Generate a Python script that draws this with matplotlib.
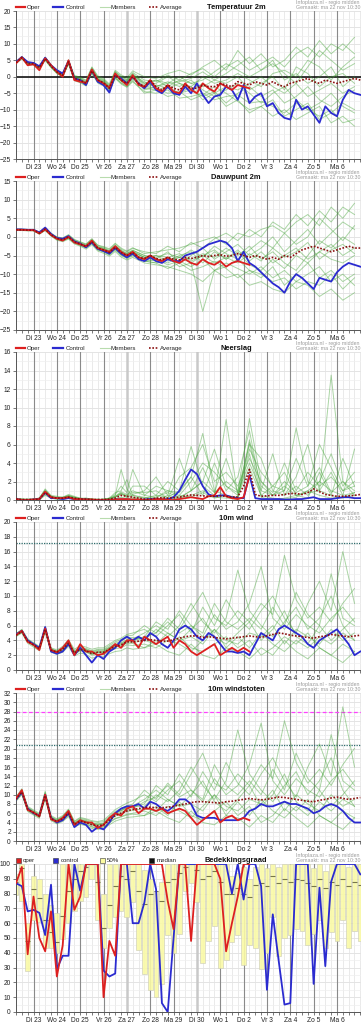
import numpy as np
import matplotlib
matplotlib.use("Agg")
import matplotlib.pyplot as plt
from matplotlib.lines import Line2D
from matplotlib.patches import Rectangle

plt.rcParams['font.family'] = ['Liberation Sans', 'DejaVu Sans']

# ---------------- time axes (hours since first forecast step) ----------------
T6 = list(range(0, 360, 6))                               # 60 six-hourly steps
T_OPER = list(range(0, 241, 6))                           # oper run to +240h
T_MEM = list(range(0, 121, 6)) + list(range(132, 349, 12))  # member samples
DAY_HOURS = [18 + 24 * k for k in range(14)]
DAY_LABELS = ["Di 23", "Wo 24", "Do 25", "Vr 26", "Za 27", "Zo 28", "Ma 29",
              "Di 30", "Wo 1", "Do 2", "Vr 3", "Za 4", "Zo 5", "Ma 6"]

# ---------------- Temperatuur 2m ----------------
temp_oper = [4.1, 5.9, 3.5, 3.8, 2.0, 5.6, 3.5, 1.5, 0.0, 5.0, -1.0, -1.5, -1.8, 2.2, -1.0, -2.0, -3.3,
             1.0, -1.0, -2.5, 0.5, -2.5, -3.0, -1.0, -3.5, -4.5, -2.5, -4.5, -5.0, -2.0, -4.0, -5.0,
             -2.0, -3.5, -4.5, -2.0, -3.0, -4.0, -2.5, -3.0, -3.5]
temp_control = [4.5, 6.0, 4.5, 4.2, 3.2, 5.8, 3.5, 2.0, 1.0, 4.8, -0.5, -1.0, -2.5, 2.0, -1.5, -2.5,
                -4.8, 0.5, -0.5, -2.0, 0.0, -2.0, -3.5, -1.5, -4.0, -5.0, -3.0, -5.0, -5.5, -3.0,
                -5.0, -2.0, -5.5, -8.0, -6.0, -5.5, -3.0, -4.0, -7.0, -2.5, -8.0, -6.0, -5.0, -9.0,
                -8.0, -11.0, -12.5, -13.0, -7.0, -10.0, -9.0, -11.5, -14.0, -9.0, -11.0, -12.0,
                -7.0, -4.0, -5.0, -5.5]
temp_avg = [4.3, 5.8, 4.0, 4.0, 2.8, 5.5, 3.2, 1.5, 0.5, 4.5, -0.5, -1.0, -2.0, 1.8, -1.0, -1.8, -3.5,
            0.5, -1.0, -2.0, 0.0, -2.0, -3.0, -1.0, -3.0, -4.0, -2.5, -3.5, -4.0, -2.5, -3.5, -3.5,
            -2.5, -3.0, -3.0, -2.0, -2.5, -3.0, -1.5, -2.0, -2.5, -1.5, -2.0, -2.5, -1.5, -2.5,
            -3.0, -2.0, -1.5, -1.0, -0.5, -1.5, -2.0, -1.0, -1.5, -2.0, -1.5, -1.0, -0.5, -1.0]
temp_members = [
    [4.5, 6.2, 4.3, 4.4, 3.1, 6.0, 3.6, 2.0, 1.0, 5.2, 0.2, -0.3, -1.2, 2.8, 0.0, -0.8, -2.5, 1.6, 0.2, -0.8, 1.3,
     -1.0, -1.5, 0.5, -1.0, 1.0, 2.5, 0.0, 3.0, 5.0, 2.0, 4.0, 6.0, 3.0, 7.0, 9.0, 6.0, 10.0, 8.0, 12.0],
    [4.0, 5.5, 3.7, 3.6, 2.4, 5.0, 2.8, 1.0, 0.0, 3.8, -1.2, -1.8, -2.8, 1.0, -1.9, -2.8, -4.5, -0.5, -2.2, -3.2, -1.5,
     -4.5, -5.0, -4.0, -6.5, -6.0, -5.0, -7.0, -6.0, -5.5, -8.0, -7.5, -9.0, -11.0, -8.0, -10.0, -12.0, -10.0, -14.0, -13.0],
    [4.2, 5.9, 4.1, 4.1, 3.0, 5.7, 3.3, 1.7, 0.8, 4.8, -0.2, -0.6, -1.6, 2.3, -0.5, -1.2, -3.0, 1.2, -0.3, -1.2, 1.0,
     -2.0, -1.0, -2.0, -1.5, -0.5, 1.5, -1.0, 1.0, 3.5, 6.0, 2.0, 4.0, 1.0, -2.0, 3.0, 8.0, 5.0, 2.0, 4.0],
    [4.4, 5.7, 3.9, 3.8, 2.6, 5.3, 3.0, 1.2, 0.2, 4.2, -0.8, -1.4, -2.5, 1.4, -1.5, -2.3, -4.0, -0.2, -1.8, -2.8, -0.8,
     -3.5, -4.0, -3.0, -5.0, -4.0, -6.0, -4.5, -8.0, -5.0, -3.0, -6.0, -4.0, -8.0, -6.0, -3.0, -7.0, -9.0, -6.0, -4.0],
    [4.3, 6.0, 4.2, 4.2, 3.0, 5.8, 3.5, 1.8, 0.7, 4.9, 0.0, -0.5, -1.5, 2.5, -0.3, -1.0, -2.8, 1.5, 0.0, -1.0, 0.8,
     -2.5, -2.0, 0.0, -2.0, -3.0, 0.0, -2.0, -1.0, 1.0, -1.0, -3.0, 1.0, 2.0, 0.0, 5.0, 3.0, -1.0, 3.0, 6.0],
    [4.1, 5.6, 3.8, 3.9, 2.7, 5.4, 3.1, 1.3, 0.3, 4.3, -0.6, -1.2, -2.2, 1.6, -1.2, -2.0, -3.8, 0.2, -1.3, -2.4, -0.5,
     -3.0, -3.5, -5.0, -4.5, -7.0, -5.5, -3.0, -5.0, -7.5, -10.0, -9.0, -12.0, -10.0, -13.0, -11.0, -9.0, -14.0, -12.0, -15.0],
    [4.6, 6.1, 4.4, 4.3, 3.2, 5.9, 3.7, 2.1, 1.1, 5.0, 0.4, -0.1, -1.0, 3.0, 0.3, -0.5, -2.2, 2.0, 0.6, -0.3, 1.8,
     0.0, -0.5, 1.0, 2.0, 0.5, 3.0, 5.0, 2.0, 8.0, 4.0, 7.0, 3.0, 5.0, 9.0, 6.0, 11.0, 7.0, 10.0, 7.0],
    [4.3, 5.8, 4.0, 4.0, 2.9, 5.6, 3.2, 1.6, 0.5, 4.6, -0.4, -0.9, -1.9, 2.0, -0.8, -1.6, -3.3, 0.8, -0.7, -1.6, 0.3,
     -3.0, -2.5, -3.5, -2.0, -4.0, -2.0, -5.0, -3.0, -4.0, -2.0, 0.0, -3.0, -5.0, -2.0, -6.0, -4.0, -2.0, -5.0, -3.0],
    [4.2, 5.8, 3.9, 4.0, 2.7, 5.4, 3.1, 1.4, 0.4, 4.4, -0.7, -1.1, -2.1, 1.6, -1.1, -2.0, -3.7, 0.3, -1.2, -2.3, -0.3,
     -4.0, -3.0, -1.5, -3.0, -1.0, -4.0, -6.0, -4.0, -2.0, -5.0, -8.0, -5.0, -3.0, -7.0, -10.0, -8.0, -5.0, -9.0, -11.0],
    [4.5, 6.0, 4.2, 4.1, 3.0, 5.7, 3.4, 1.7, 0.6, 4.7, -0.3, -0.8, -1.8, 2.1, -0.6, -1.4, -3.1, 1.0, -0.5, -1.4, 0.5,
     -1.5, -3.0, -2.0, 0.0, -2.0, -1.0, 1.5, 4.0, 2.0, 0.0, 2.0, 5.0, -1.0, 1.0, -2.0, 0.0, 3.0, -3.0, 0.0],
    [4.0, 5.6, 3.7, 3.7, 2.5, 5.1, 2.9, 1.1, 0.1, 4.0, -1.0, -1.6, -2.6, 1.2, -1.6, -2.5, -4.2, -0.3, -1.9, -3.0, -1.2,
     -5.0, -4.0, -6.0, -5.0, -3.0, -7.0, -5.0, -9.0, -7.0, -11.0, -9.0, -7.0, -12.0, -10.0, -8.0, -13.0, -11.0, -8.0, -10.0],
    [4.4, 5.9, 4.1, 4.2, 2.9, 5.6, 3.3, 1.6, 0.6, 4.6, -0.4, -0.8, -1.8, 2.0, -0.8, -1.6, -3.2, 0.8, -0.8, -1.6, 0.2,
     -2.0, -1.0, -3.0, -1.0, -2.0, -3.0, -1.0, -2.0, 0.0, -4.0, -2.0, 0.0, -4.0, 3.0, 1.0, -3.0, 0.0, 1.0, -2.0],
]

# ---------------- Dauwpunt 2m ----------------
dew_oper = [1.9, 1.9, 1.8, 1.8, 0.9, 2.0, 0.5, -0.5, -1.0, 0.0, -1.5, -2.0, -2.5, -1.0, -3.0, -3.5, -4.0,
            -2.5, -4.0, -5.0, -4.0, -5.5, -6.0, -5.0, -6.0, -6.5, -5.5, -6.5, -7.0, -6.0, -7.0, -7.5,
            -6.0, -7.0, -7.5, -6.5, -8.0, -7.0, -6.5, -7.0, -7.5]
dew_control = [2.0, 2.0, 1.9, 1.9, 1.2, 2.5, 0.8, -0.3, -0.5, 0.2, -1.2, -1.8, -2.8, -1.5, -3.2, -3.8,
               -4.5, -3.0, -4.5, -5.5, -4.5, -6.0, -6.5, -5.5, -6.5, -7.0, -6.0, -6.5, -6.5, -5.0,
               -4.5, -4.0, -3.0, -2.0, -1.5, -1.0, -1.5, -3.0, -6.5, -4.0, -7.0, -8.0, -9.5, -11.0,
               -12.5, -13.5, -15.0, -12.0, -10.0, -11.0, -12.5, -14.0, -11.0, -11.5, -12.0, -9.5,
               -8.0, -7.0, -7.5, -8.0]
dew_avg = [1.9, 1.9, 1.8, 1.8, 1.0, 2.1, 0.6, -0.4, -0.8, 0.0, -1.3, -1.9, -2.6, -1.3, -3.0, -3.5, -4.2,
           -2.8, -4.2, -5.0, -4.2, -5.5, -5.8, -5.0, -5.8, -6.2, -5.5, -6.0, -6.2, -5.5, -5.8, -5.5,
           -5.0, -5.3, -5.0, -4.8, -5.2, -5.0, -4.5, -5.0, -5.5, -5.0, -5.5, -6.0, -5.5, -6.0, -5.0,
           -5.5, -4.5, -3.5, -3.0, -2.5, -3.0, -3.5, -4.0, -3.5, -3.0, -2.5, -3.0, -3.0]
dew_members = [
    [2.1, 2.1, 2.0, 2.0, 1.3, 2.5, 1.0, 0.0, -0.3, 0.6, -0.7, -1.3, -1.9, -0.5, -2.2, -2.6, -3.2, -1.7, -3.0, -3.8, -2.9,
     -4.5, -4.0, -3.5, -3.0, -2.0, -1.0, 0.0, -2.0, 1.0, 0.0, 2.0, 3.0, 1.0, 4.0, 6.0, 3.0, 8.0, 5.0, 9.0],
    [1.7, 1.7, 1.6, 1.6, 0.7, 1.7, 0.2, -0.9, -1.3, -0.6, -1.9, -2.5, -3.3, -2.1, -3.8, -4.4, -5.2, -3.9, -5.4, -6.2, -5.5,
     -7.0, -7.5, -8.0, -9.0, -10.0, -12.0, -9.0, -11.0, -10.0, -13.0, -12.0, -14.0, -15.0, -12.0, -13.0, -16.0, -14.0, -17.0, -15.0],
    [2.0, 2.0, 1.9, 1.9, 1.1, 2.2, 0.8, -0.2, -0.6, 0.3, -1.0, -1.6, -2.2, -0.9, -2.6, -3.0, -3.7, -2.3, -3.6, -4.4, -3.6,
     -5.0, -6.0, -4.0, -7.0, -5.0, -3.0, -6.0, -4.0, -2.0, -5.0, -3.0, 0.0, -4.0, -1.0, 2.0, -2.0, 1.0, 4.0, 2.0],
    [1.8, 1.8, 1.7, 1.7, 0.9, 1.9, 0.5, -0.6, -1.0, -0.2, -1.5, -2.1, -2.9, -1.6, -3.3, -3.9, -4.6, -3.2, -4.7, -5.5, -4.7,
     -6.5, -6.0, -7.5, -6.5, -8.0, -6.0, -9.0, -7.0, -8.5, -10.0, -8.0, -11.0, -9.0, -12.0, -10.0, -8.0, -12.0, -10.0, -13.0],
    [2.0, 1.9, 1.9, 1.8, 1.1, 2.3, 0.7, -0.3, -0.7, 0.2, -1.1, -1.7, -2.4, -1.0, -2.7, -3.2, -3.9, -2.5, -3.9, -4.6, -3.8,
     -5.5, -5.0, -6.5, -5.0, -4.0, -7.0, -4.0, -6.0, -3.5, -6.5, -4.0, -7.0, -5.0, -3.0, -6.0, -4.0, -2.0, -5.0, -3.0],
    [1.9, 1.9, 1.8, 1.8, 1.0, 2.0, 0.5, -0.5, -0.9, -0.1, -1.4, -2.0, -2.7, -1.4, -3.1, -3.6, -4.3, -3.0, -4.4, -5.2, -4.4,
     -6.0, -6.5, -5.5, -8.0, -7.0, -20.0, -9.0, -8.0, -6.0, -9.0, -11.0, -8.0, -13.0, -10.0, -7.0, -11.0, -9.0, -12.0, -10.0],
    [2.1, 2.0, 2.0, 1.9, 1.2, 2.4, 0.9, -0.1, -0.4, 0.5, -0.8, -1.4, -2.0, -0.6, -2.3, -2.8, -3.4, -1.9, -3.3, -4.0, -3.1,
     -4.0, -4.5, -2.5, -4.0, -1.5, -3.0, -0.5, 1.0, -1.0, 2.0, 0.0, 4.0, 2.0, 6.0, 3.0, 7.0, 4.0, 8.0, 6.0],
    [1.8, 1.8, 1.7, 1.7, 0.9, 1.9, 0.4, -0.6, -1.0, -0.3, -1.6, -2.2, -2.9, -1.7, -3.4, -3.9, -4.7, -3.3, -4.8, -5.6, -4.9,
     -6.5, -7.0, -6.0, -5.5, -7.0, -5.0, -3.5, -6.0, -4.0, -7.5, -9.0, -6.0, -8.5, -5.0, -7.0, -4.0, -6.0, -7.0, -5.0],
    [1.9, 1.9, 1.8, 1.8, 1.0, 2.1, 0.6, -0.4, -0.8, 0.0, -1.3, -1.9, -2.6, -1.3, -3.0, -3.5, -4.2, -2.8, -4.2, -5.0, -4.2,
     -5.5, -6.0, -7.0, -5.5, -6.0, -4.5, -5.5, -3.0, -5.0, -2.5, -6.0, -4.0, -7.0, -9.0, -5.0, -1.0, -3.0, 0.0, -2.0],
    [2.0, 2.0, 1.9, 1.9, 1.1, 2.2, 0.7, -0.3, -0.6, 0.2, -1.1, -1.7, -2.3, -1.0, -2.7, -3.1, -3.8, -2.4, -3.7, -4.5, -3.6,
     -5.0, -5.5, -4.5, -5.5, -3.5, -5.5, -2.5, -4.5, -6.0, -3.5, -1.0, -3.0, 1.0, -2.0, 0.0, 5.0, 2.0, -1.0, 3.0],
    [1.8, 1.8, 1.7, 1.7, 0.8, 1.8, 0.4, -0.7, -1.1, -0.4, -1.7, -2.3, -3.0, -1.8, -3.5, -4.1, -4.9, -3.5, -5.0, -5.8, -5.1,
     -6.5, -7.0, -8.5, -7.0, -9.0, -8.0, -6.5, -8.5, -11.0, -9.0, -10.0, -12.0, -11.0, -14.0, -12.0, -13.0, -10.0, -14.0, -11.0],
    [2.0, 1.9, 1.8, 1.8, 1.0, 2.0, 0.6, -0.4, -0.8, 0.1, -1.2, -1.8, -2.5, -1.2, -2.9, -3.4, -4.1, -2.7, -4.1, -4.9, -4.0,
     -5.5, -5.0, -5.5, -4.5, -6.5, -5.0, -7.0, -5.5, -7.0, -4.5, -6.5, -3.0, -5.5, -4.0, -1.5, -6.0, -3.5, -2.0, -4.5],
]

# ---------------- Neerslag ----------------
rain_oper = [0.1, 0.0, 0.0, 0.05, 0.1, 0.9, 0.3, 0.2, 0.2, 0.3, 0.1, 0.1, 0.05, 0.05, 0.0, 0.0, 0.0, 0.05,
             0.1, 0.1, 0.05, 0.05, 0.0, 0.0, 0.1, 0.1, 0.0, 0.0, 0.1, 0.2, 0.3, 0.2, 0.1, 0.4, 0.5, 1.4,
             0.4, 0.2, 0.1, 0.3, 2.6]
rain_control = [0.1, 0.0, 0.0, 0.05, 0.1, 0.8, 0.2, 0.2, 0.1, 0.2, 0.1, 0.05, 0.05, 0.0, 0.0, 0.0, 0.0,
                0.05, 0.05, 0.05, 0.0, 0.0, 0.05, 0.1, 0.1, 0.05, 0.1, 0.3, 1.0, 2.2, 3.3, 2.8, 1.5,
                0.6, 0.4, 0.5, 0.5, 0.3, 0.2, 0.2, 2.7, 0.2, 0.1, 0.1, 0.1, 0.1, 0.05, 0.05, 0.1, 0.1,
                0.2, 0.3, 0.1, 0.1, 0.1, 0.2, 0.3, 0.3, 0.2, 0.2]
rain_avg = [0.1, 0.05, 0.05, 0.05, 0.1, 0.8, 0.3, 0.2, 0.2, 0.3, 0.2, 0.1, 0.1, 0.05, 0.05, 0.05, 0.1,
            0.2, 0.5, 0.4, 0.3, 0.2, 0.1, 0.1, 0.2, 0.25, 0.2, 0.25, 0.3, 0.45, 0.55, 0.5, 0.45, 0.4,
            0.4, 0.45, 0.4, 0.3, 0.35, 1.5, 3.3, 0.6, 0.4, 0.45, 0.5, 0.5, 0.6, 0.7, 0.7, 0.6, 0.8,
            1.2, 0.9, 0.6, 0.5, 0.4, 0.4, 0.45, 0.5, 0.6]
rain_members = [
    [0.1, 0.0, 0.0, 0.1, 0.2, 1.1, 0.4, 0.3, 0.2, 0.5, 0.3, 0.1, 0.2, 0.1, 0.0, 0.0, 0.2, 0.6, 1.5, 0.8, 3.3,
     0.5, 0.3, 1.0, 0.8, 2.5, 7.2, 1.0, 0.5, 0.3, 6.5, 1.5, 0.5, 2.0, 0.8, 1.5, 3.5, 0.8, 2.0, 0.5],
    [0.0, 0.0, 0.0, 0.0, 0.1, 0.9, 0.3, 0.2, 0.3, 0.4, 0.2, 0.1, 0.1, 0.0, 0.0, 0.1, 0.1, 0.3, 0.8, 0.4, 0.6,
     1.0, 2.5, 0.5, 4.5, 1.0, 2.0, 5.5, 1.5, 0.8, 8.8, 2.0, 0.5, 1.0, 7.8, 2.0, 1.0, 13.5, 2.0, 1.0],
    [0.1, 0.1, 0.0, 0.0, 0.1, 0.7, 0.3, 0.2, 0.1, 0.2, 0.1, 0.0, 0.0, 0.0, 0.1, 0.0, 0.1, 0.5, 3.3, 1.2, 0.3,
     0.2, 0.5, 2.0, 1.0, 5.8, 1.5, 0.5, 8.7, 0.5, 3.5, 0.5, 1.5, 3.0, 0.5, 1.0, 2.0, 5.0, 1.5, 3.0],
    [0.2, 0.1, 0.1, 0.1, 0.2, 1.0, 0.4, 0.3, 0.3, 0.6, 0.4, 0.2, 0.1, 0.1, 0.0, 0.1, 0.2, 0.8, 1.0, 2.2, 0.5,
     0.3, 0.0, 0.5, 0.2, 1.0, 3.5, 0.8, 2.0, 1.0, 6.0, 4.5, 1.0, 0.5, 2.5, 6.0, 1.0, 0.5, 4.5, 1.5],
    [0.0, 0.0, 0.0, 0.0, 0.0, 0.6, 0.2, 0.1, 0.1, 0.2, 0.1, 0.1, 0.0, 0.0, 0.0, 0.0, 0.0, 0.1, 0.3, 0.2, 0.2,
     0.0, 0.2, 0.0, 0.5, 0.3, 0.8, 0.2, 0.5, 0.2, 5.0, 0.3, 0.0, 0.2, 0.5, 0.2, 3.0, 0.5, 0.2, 0.8],
    [0.1, 0.0, 0.0, 0.0, 0.1, 0.8, 0.3, 0.2, 0.2, 0.3, 0.2, 0.1, 0.1, 0.1, 0.0, 0.0, 0.1, 0.3, 0.6, 0.4, 1.5,
     1.5, 0.5, 0.3, 1.0, 2.5, 0.5, 4.0, 1.0, 2.5, 7.5, 1.0, 5.0, 0.5, 1.5, 0.5, 2.0, 1.0, 0.5, 5.5],
    [0.1, 0.1, 0.1, 0.1, 0.2, 1.2, 0.5, 0.4, 0.3, 0.5, 0.3, 0.2, 0.2, 0.1, 0.1, 0.1, 0.2, 0.4, 0.7, 0.5, 0.8,
     0.8, 1.0, 0.2, 2.5, 3.5, 6.0, 2.0, 3.0, 1.5, 4.5, 2.0, 0.8, 4.0, 1.0, 3.0, 1.5, 2.5, 1.0, 2.0],
    [0.0, 0.0, 0.0, 0.0, 0.0, 0.5, 0.2, 0.1, 0.1, 0.2, 0.1, 0.0, 0.0, 0.0, 0.0, 0.0, 0.0, 0.1, 0.2, 0.1, 0.1,
     0.0, 0.0, 0.1, 0.2, 0.5, 1.0, 0.3, 0.2, 0.1, 6.2, 0.5, 0.2, 0.1, 0.3, 1.0, 0.5, 0.2, 0.3, 0.5],
    [0.1, 0.0, 0.0, 0.0, 0.1, 0.9, 0.3, 0.2, 0.2, 0.4, 0.3, 0.1, 0.1, 0.0, 0.0, 0.0, 0.1, 0.4, 0.9, 0.6, 1.0,
     0.5, 1.5, 1.0, 0.5, 2.0, 4.0, 3.0, 1.5, 0.5, 5.5, 3.0, 1.5, 1.0, 4.5, 1.5, 6.0, 3.5, 1.0, 1.5],
    [0.1, 0.1, 0.0, 0.1, 0.2, 1.0, 0.4, 0.2, 0.2, 0.4, 0.2, 0.1, 0.1, 0.1, 0.0, 0.0, 0.1, 0.3, 0.7, 0.3, 0.5,
     0.2, 0.3, 0.8, 0.3, 1.0, 2.0, 0.8, 4.5, 0.8, 4.0, 1.0, 0.5, 1.5, 0.5, 0.8, 1.0, 3.0, 0.5, 0.8],
]

# ---------------- 10m wind ----------------
wind_oper = [4.7, 5.3, 3.8, 3.4, 2.7, 5.6, 2.7, 2.4, 3.0, 4.0, 2.0, 3.5, 2.5, 2.5, 2.0, 2.2, 2.8, 3.5,
             3.0, 4.0, 4.0, 3.0, 4.5, 4.0, 3.5, 4.0, 4.5, 3.0, 4.0, 3.5, 2.5, 2.0, 2.5, 3.0, 3.5, 2.0,
             2.5, 3.0, 2.5, 3.0, 2.5]
wind_control = [4.8, 5.3, 4.0, 3.5, 3.0, 5.8, 2.5, 2.2, 2.5, 3.5, 2.0, 3.0, 2.0, 1.0, 2.0, 1.5, 2.5,
                3.0, 4.0, 4.5, 4.0, 4.5, 4.0, 5.0, 4.5, 3.5, 3.0, 4.0, 5.5, 6.0, 5.5, 4.5, 4.0, 5.0,
                4.5, 3.5, 2.5, 2.5, 2.3, 2.5, 2.0, 3.5, 5.0, 4.5, 4.0, 5.5, 6.0, 5.5, 5.0, 4.5, 3.5,
                3.0, 4.0, 4.5, 5.0, 5.5, 4.5, 3.5, 2.0, 2.5]
wind_avg = [4.7, 5.2, 3.9, 3.4, 2.9, 5.5, 2.7, 2.4, 2.8, 3.6, 2.3, 2.8, 2.6, 2.2, 2.4, 2.4, 2.8, 3.2,
            3.4, 3.8, 3.8, 3.9, 4.0, 4.1, 4.0, 3.9, 3.9, 4.1, 4.3, 4.5, 4.6, 4.6, 4.4, 4.5, 4.4, 4.3,
            4.2, 4.3, 4.4, 4.5, 4.6, 4.5, 4.4, 4.6, 4.8, 5.0, 4.9, 4.7, 4.6, 4.5, 4.4, 4.3, 4.5, 4.6,
            4.8, 4.7, 4.6, 4.5, 4.6, 4.7]
wind_members = [
    [4.9, 5.5, 4.2, 3.7, 3.2, 5.9, 3.0, 2.7, 3.2, 4.1, 2.8, 3.3, 3.1, 2.8, 3.0, 3.0, 3.5, 4.0, 4.3, 4.8, 5.0,
     5.5, 4.5, 6.0, 7.5, 5.0, 8.5, 6.0, 9.5, 7.0, 5.5, 8.0, 10.0, 7.0, 5.0, 9.0, 12.0, 8.0, 16.0, 9.0],
    [4.5, 5.0, 3.6, 3.1, 2.6, 5.1, 2.4, 2.1, 2.4, 3.2, 1.9, 2.3, 2.1, 1.6, 1.8, 1.8, 2.2, 2.5, 2.6, 3.0, 2.8,
     3.0, 3.5, 2.5, 2.0, 3.5, 2.0, 1.5, 3.0, 2.5, 1.5, 3.0, 2.0, 4.0, 2.5, 1.5, 3.0, 2.0, 1.0, 2.5],
    [4.8, 5.3, 4.0, 3.5, 3.0, 5.6, 2.8, 2.5, 2.9, 3.8, 2.5, 3.0, 2.8, 2.5, 2.7, 2.7, 3.1, 3.6, 3.9, 4.4, 4.4,
     4.0, 5.5, 4.5, 6.0, 9.0, 6.5, 5.0, 7.0, 13.5, 8.0, 6.0, 4.5, 6.5, 8.5, 5.5, 7.0, 10.0, 6.0, 4.0],
    [4.6, 5.1, 3.8, 3.3, 2.8, 5.3, 2.6, 2.3, 2.6, 3.4, 2.1, 2.6, 2.4, 2.0, 2.1, 2.1, 2.5, 2.9, 3.0, 3.4, 3.3,
     3.5, 3.0, 4.0, 3.5, 2.5, 4.0, 5.5, 3.0, 4.5, 3.0, 5.0, 3.5, 2.5, 4.0, 3.0, 4.5, 3.5, 5.0, 4.0],
    [4.7, 5.2, 3.9, 3.4, 2.9, 5.5, 2.7, 2.4, 2.8, 3.6, 2.3, 2.8, 2.6, 2.2, 2.4, 2.4, 2.8, 3.3, 3.5, 3.9, 3.9,
     4.5, 5.0, 6.5, 5.0, 6.0, 4.5, 7.5, 5.5, 6.5, 9.0, 14.0, 7.0, 5.5, 7.5, 6.0, 5.0, 7.0, 8.5, 6.5],
    [4.8, 5.4, 4.0, 3.5, 3.0, 5.7, 2.8, 2.5, 3.0, 3.8, 2.4, 2.9, 2.7, 2.3, 2.5, 2.6, 3.0, 3.4, 3.7, 4.1, 4.2,
     5.0, 6.0, 5.0, 4.0, 5.5, 7.0, 4.5, 3.5, 5.0, 6.5, 4.0, 5.5, 8.0, 4.5, 3.5, 6.0, 4.0, 5.5, 7.0],
    [4.6, 5.1, 3.8, 3.3, 2.8, 5.4, 2.6, 2.3, 2.7, 3.5, 2.2, 2.7, 2.5, 2.1, 2.3, 2.3, 2.7, 3.1, 3.3, 3.6, 3.6,
     3.0, 4.0, 3.0, 4.5, 3.0, 2.5, 3.5, 4.5, 3.0, 4.0, 2.0, 3.0, 4.5, 3.5, 5.0, 3.0, 2.0, 3.5, 2.5],
    [4.9, 5.4, 4.1, 3.6, 3.1, 5.8, 2.9, 2.6, 3.0, 3.9, 2.6, 3.1, 2.9, 2.6, 2.8, 2.8, 3.3, 3.8, 4.1, 4.6, 4.7,
     6.0, 5.0, 7.0, 5.5, 8.0, 10.5, 7.0, 6.0, 8.0, 6.5, 9.0, 7.5, 15.5, 9.5, 7.0, 8.5, 6.5, 9.0, 11.0],
    [4.7, 5.2, 3.9, 3.4, 2.9, 5.4, 2.7, 2.4, 2.7, 3.5, 2.3, 2.8, 2.6, 2.2, 2.4, 2.4, 2.8, 3.2, 3.4, 3.8, 3.7,
     4.0, 3.5, 5.0, 4.0, 4.5, 3.5, 5.5, 4.0, 3.5, 5.0, 4.5, 6.0, 3.5, 5.5, 4.5, 3.5, 5.5, 4.0, 5.0],
    [4.8, 5.3, 4.0, 3.5, 2.9, 5.6, 2.8, 2.5, 2.9, 3.7, 2.4, 2.9, 2.7, 2.4, 2.6, 2.5, 3.0, 3.4, 3.6, 4.0, 4.0,
     4.5, 6.5, 5.5, 8.0, 6.0, 5.0, 9.0, 6.5, 5.5, 7.0, 5.5, 8.5, 6.0, 10.5, 7.5, 6.0, 13.0, 7.0, 6.0],
]

# ---------------- 10m windstoten ----------------
gust_oper = [9.2, 11.0, 6.7, 6.2, 5.3, 10.0, 4.7, 4.2, 5.0, 6.5, 3.5, 4.5, 4.0, 4.0, 2.8, 3.5, 5.0, 6.0,
             5.5, 7.0, 7.5, 6.0, 7.0, 7.0, 6.5, 7.0, 6.0, 6.5, 7.0, 6.5, 5.0, 3.5, 4.5, 5.5, 6.5, 4.0,
             5.0, 5.5, 4.5, 5.0, 4.5]
gust_control = [9.0, 10.5, 7.0, 6.0, 5.5, 10.0, 5.0, 4.0, 4.5, 6.0, 3.0, 4.0, 3.5, 2.0, 3.0, 2.5, 4.0,
                6.0, 7.0, 7.5, 7.5, 8.0, 7.0, 8.5, 8.0, 7.0, 6.5, 7.5, 9.0, 9.0, 8.0, 5.5, 5.0, 5.0,
                5.0, 4.5, 4.5, 4.5, 4.5, 5.0, 6.5, 7.0, 8.0, 7.5, 7.5, 8.0, 8.5, 8.0, 8.0, 7.5, 7.0,
                6.0, 6.5, 7.5, 8.0, 7.5, 6.5, 5.0, 4.0, 4.0]
gust_avg = [9.0, 10.6, 6.9, 6.1, 5.4, 9.8, 4.9, 4.2, 4.8, 6.0, 3.6, 4.3, 4.0, 3.5, 3.3, 3.5, 4.5, 5.5,
            6.0, 6.5, 6.8, 7.0, 7.2, 7.3, 7.2, 7.2, 7.3, 7.5, 7.8, 8.0, 8.3, 8.5, 8.5, 8.4, 8.3, 8.2,
            8.5, 8.6, 8.8, 9.0, 9.2, 9.0, 8.9, 9.0, 9.3, 9.5, 9.4, 9.2, 9.0, 8.8, 8.6, 8.5, 8.8, 9.0,
            9.3, 9.5, 9.2, 9.0, 9.2, 9.4]
gust_members = [
    [9.5, 11.3, 7.5, 6.7, 6.0, 10.8, 5.5, 4.8, 5.5, 6.9, 4.3, 5.1, 4.8, 4.4, 4.2, 4.5, 5.6, 6.8, 7.5, 8.2, 8.7,
     10.0, 8.5, 11.0, 13.0, 9.5, 15.0, 11.0, 17.0, 12.5, 10.0, 14.5, 18.0, 13.0, 9.5, 16.0, 21.0, 14.0, 29.0, 16.0],
    [8.6, 10.0, 6.4, 5.6, 4.9, 9.1, 4.4, 3.7, 4.2, 5.3, 3.0, 3.6, 3.3, 2.7, 2.5, 2.6, 3.5, 4.3, 4.7, 5.1, 5.2,
     5.5, 6.5, 5.0, 4.0, 6.5, 4.0, 3.5, 5.5, 5.0, 3.0, 5.5, 4.0, 7.0, 5.0, 3.0, 5.5, 4.0, 2.5, 5.0],
    [9.1, 10.8, 7.0, 6.2, 5.5, 10.0, 5.0, 4.3, 5.0, 6.2, 3.8, 4.5, 4.2, 3.7, 3.5, 3.7, 4.8, 5.9, 6.5, 7.1, 7.4,
     7.5, 10.0, 8.5, 11.0, 16.0, 12.0, 9.0, 13.0, 24.0, 14.5, 11.0, 8.5, 12.0, 15.0, 10.0, 13.0, 18.0, 11.0, 7.5],
    [8.8, 10.3, 6.7, 5.9, 5.2, 9.5, 4.7, 4.0, 4.5, 5.7, 3.3, 4.0, 3.7, 3.1, 2.9, 3.1, 4.0, 4.9, 5.3, 5.8, 6.0,
     6.5, 5.5, 7.5, 6.5, 5.0, 7.5, 10.0, 5.5, 8.5, 5.5, 9.0, 6.5, 5.0, 7.5, 5.5, 8.5, 6.5, 9.0, 7.5],
    [9.0, 10.7, 6.9, 6.1, 5.4, 9.8, 4.9, 4.2, 4.8, 6.1, 3.7, 4.4, 4.1, 3.6, 3.4, 3.6, 4.6, 5.7, 6.2, 6.7, 7.0,
     8.5, 9.5, 12.0, 9.5, 11.0, 8.5, 13.5, 10.0, 12.0, 16.5, 25.5, 13.0, 10.0, 13.5, 11.0, 9.5, 13.0, 15.5, 12.0],
    [9.3, 10.9, 7.2, 6.4, 5.7, 10.3, 5.2, 4.5, 5.2, 6.5, 4.0, 4.7, 4.4, 3.9, 3.7, 3.9, 5.0, 6.1, 6.7, 7.3, 7.6,
     9.0, 11.0, 9.0, 7.5, 10.0, 13.0, 8.5, 6.5, 9.0, 12.0, 7.5, 10.0, 14.5, 8.5, 6.5, 11.0, 7.5, 10.0, 13.0],
    [8.7, 10.2, 6.6, 5.8, 5.1, 9.3, 4.6, 3.9, 4.4, 5.6, 3.2, 3.8, 3.6, 3.0, 2.8, 3.0, 3.9, 4.8, 5.2, 5.6, 5.8,
     5.5, 7.5, 5.5, 8.5, 5.5, 4.5, 6.5, 8.5, 5.5, 7.5, 4.0, 5.5, 8.5, 6.5, 9.0, 5.5, 4.0, 6.5, 5.0],
    [9.4, 11.1, 7.3, 6.5, 5.8, 10.5, 5.3, 4.6, 5.3, 6.7, 4.2, 4.9, 4.6, 4.2, 4.0, 4.2, 5.3, 6.4, 7.0, 7.6, 8.0,
     11.0, 9.0, 12.5, 10.0, 14.5, 19.0, 12.5, 11.0, 14.5, 12.0, 16.5, 13.5, 26.0, 17.0, 12.5, 15.5, 12.0, 16.5, 20.0],
    [9.0, 10.6, 6.9, 6.1, 5.4, 9.8, 4.9, 4.2, 4.7, 5.9, 3.5, 4.2, 3.9, 3.4, 3.2, 3.4, 4.4, 5.4, 5.9, 6.4, 6.6,
     7.0, 6.5, 9.0, 7.5, 8.0, 6.5, 10.0, 7.5, 6.5, 9.0, 8.0, 11.0, 6.5, 10.0, 8.0, 6.5, 10.0, 7.5, 9.0],
    [9.2, 10.8, 7.1, 6.3, 5.6, 10.1, 5.1, 4.4, 5.0, 6.3, 3.9, 4.6, 4.3, 3.8, 3.6, 3.8, 4.9, 6.0, 6.6, 7.2, 7.5,
     8.0, 12.0, 10.0, 14.5, 11.0, 9.0, 16.5, 12.0, 10.0, 13.0, 10.0, 15.5, 11.0, 19.0, 13.5, 11.0, 23.0, 13.0, 11.0],
]

# ---------------- Bedekkingsgraad ----------------
cloud_oper = [87, 98, 39, 78, 50, 41, 68, 24, 45, 100, 69, 78, 100, 100, 100, 10, 48, 38, 100, 100, 100,
              100, 100, 100, 100, 100, 75, 56, 100, 100, 48, 100, 100, 100, 100, 90, 41, 60, 78, 100, 100]
cloud_control = [87, 85, 68, 69, 67, 52, 86, 29, 38, 38, 100, 82, 100, 100, 100, 28, 24, 26, 100, 100,
                 60, 60, 74, 100, 83, 6, 0, 50, 100, 100, 100, 100, 100, 100, 100, 100, 100, 80, 100,
                 76, 100, 100, 85, 15, 66, 35, 5, 6, 100, 100, 100, 19, 84, 31, 88, 100, 100, 100, 100, 93]
cloud_p25 = [79, 75, 28, 62, 61, 43, 43, 40, 49, 60, 68, 75, 78, 90, 62, 43, 57, 64, 68, 64, 74, 42, 26,
             15, 10, 19, 52, 40, 53, 82, 87, 74, 33, 48, 58, 30, 35, 47, 52, 32, 45, 43, 29, 40, 64, 38,
             50, 52, 56, 55, 45, 53, 62, 43, 54, 48, 62, 43, 55, 48]
cloud_p75 = [93, 100, 60, 92, 90, 80, 72, 67, 100, 100, 100, 100, 100, 100, 100, 80, 100, 100, 100, 100,
             100, 100, 96, 90, 82, 88, 100, 100, 100, 100, 100, 100, 100, 100, 100, 100, 100, 92, 94, 98,
             90, 98, 100, 97, 100, 98, 100, 100, 100, 100, 100, 97, 100, 95, 100, 100, 100, 98, 100, 100]
cloud_median = [88, 97, 48, 83, 77, 62, 54, 47, 65, 82, 90, 95, 98, 100, 88, 57, 72, 85, 92, 90, 95, 82,
                73, 80, 82, 75, 88, 90, 94, 98, 100, 96, 90, 92, 95, 88, 80, 80, 84, 80, 78, 86, 87, 85,
                92, 87, 90, 88, 90, 89, 87, 85, 90, 84, 88, 86, 90, 85, 88, 86]

# ---------------- styling ----------------
W, H = 361, 1023
RED = '#dd2020'
BLUE = '#2b2bd0'
MEMBER = '#45a338'
AVG = '#8b1010'
GRIDC = '#e2e2e2'
DAYC = '#8a8a8a'
LIGHTDAY = {4, 7}          # light, wide day lines (Za 27, Di 30)

fig = plt.figure(figsize=(W / 100, H / 100), dpi=100)


def fx(x):
    return x / W


def fy(y):
    return 1 - y / H


def make_axes(ytop, ybot):
    return fig.add_axes([fx(16), fy(ybot), (W - 16) / W, (ybot - ytop) / H])


def style_axes(ax, ylim, ystep, yminor):
    ax.set_xlim(0, 354.7)
    ax.set_ylim(*ylim)
    ax.set_yticks(np.arange(ylim[0], ylim[1] + 0.01, ystep))
    ax.set_yticks(np.arange(ylim[0], ylim[1] + 0.01, yminor), minor=True)
    ax.set_xticks(DAY_HOURS)
    ax.set_xticklabels(DAY_LABELS)
    ax.set_xticks(np.arange(0, 355, 6), minor=True)
    ax.tick_params(axis='both', which='major', labelsize=4.8, length=2.5, width=0.5,
                   colors='#444', labelcolor='#222', pad=1.2)
    ax.tick_params(axis='x', which='minor', length=2, width=0.5, colors='#444')
    ax.tick_params(axis='y', which='minor', length=0)
    for s in ('top', 'right'):
        ax.spines[s].set_visible(False)
    for s in ('left', 'bottom'):
        ax.spines[s].set_color('#555')
        ax.spines[s].set_linewidth(0.7)
    # grid
    for t in np.arange(0, 355, 6):
        ax.axvline(t, color=GRIDC, lw=0.5, zorder=0)
    for yy in np.arange(ylim[0], ylim[1] + 0.01, yminor):
        ax.axhline(yy, color='#efefef', lw=0.5, zorder=0)
    for yy in np.arange(ylim[0], ylim[1] + 0.01, ystep):
        ax.axhline(yy, color=GRIDC, lw=0.6, zorder=0)
    for k, d in enumerate(DAY_HOURS):
        if k in LIGHTDAY:
            ax.axvline(d, color='#c9c9c9', lw=1.8, zorder=0.5)
        else:
            ax.axvline(d, color=DAYC, lw=0.8, zorder=0.5)


def header(ytop, title, cloud=False):
    yc = ytop - 3.8
    if not cloud:
        items = [(16, 25, 26.7, 'Oper', dict(color=RED, lw=1.6)),
                 (53.3, 63.3, 65.7, 'Control', dict(color=BLUE, lw=1.6)),
                 (100, 110, 110.5, 'Members', dict(color='#b8dcae', lw=0.8)),
                 (149.3, 158.3, 160, 'Average', dict(color=AVG, lw=1.2, ls=(0, (1, 1))))]
        for x0, x1, xt, lab, st in items:
            fig.add_artist(Line2D([fx(x0), fx(x1)], [fy(yc), fy(yc)],
                                  transform=fig.transFigure, **st))
            fig.text(fx(xt), fy(yc), lab, fontsize=4.4, va='center', ha='left', color='#222')
    else:
        items = [(16, 23, 'oper', RED), (53.3, 60.3, 'control', BLUE),
                 (100, 107, '50%', '#fbfba0'), (149.3, 156.3, 'median', '#111111')]
        for x0, xt, lab, col in items:
            fig.add_artist(Rectangle((fx(x0), fy(yc + 2.4)), 4.8 / W, 4.8 / H,
                                     transform=fig.transFigure, facecolor=col,
                                     edgecolor='#333', lw=0.4))
            fig.text(fx(xt), fy(yc), lab, fontsize=4.4, va='center', ha='left', color='#222')
    fig.text(fx(236), fy(yc), title, fontsize=5.4, fontweight='bold',
             ha='center', va='center', color='#111')
    fig.text(fx(360), fy(ytop - 8.8), 'Infoplaza.nl - regio midden', fontsize=3.8,
             color='#9a9a9a', ha='right', va='center')
    fig.text(fx(360), fy(ytop - 3.8), 'Gemaakt: ma 22 nov 10:30', fontsize=3.8,
             color='#9a9a9a', ha='right', va='center')


def draw_ens(ax, members, oper, control, avg):
    for m in members:
        ax.plot(T_MEM, m, color=MEMBER, lw=0.7, alpha=0.45, zorder=2)
    ax.plot(T6, control, color=BLUE, lw=1.3, zorder=3)
    ax.plot(T_OPER, oper, color=RED, lw=1.3, zorder=3.5)
    ax.plot(T6, avg, color=AVG, lw=1.2, ls=(0, (1, 1)), zorder=4)


panels = [(11, 159), (181, 330), (352, 500), (522, 670), (693, 841), (864, 1012)]

# 1 Temperatuur
ax = make_axes(*panels[0])
style_axes(ax, (-25, 20), 5, 2.5)
ax.axhline(0, color='black', lw=1.1, zorder=1)
draw_ens(ax, temp_members, temp_oper, temp_control, temp_avg)
header(panels[0][0], 'Temperatuur 2m')

# 2 Dauwpunt
ax = make_axes(*panels[1])
style_axes(ax, (-25, 15), 5, 2.5)
draw_ens(ax, dew_members, dew_oper, dew_control, dew_avg)
header(panels[1][0], 'Dauwpunt 2m')

# 3 Neerslag
ax = make_axes(*panels[2])
style_axes(ax, (0, 16), 2, 1)
draw_ens(ax, rain_members, rain_oper, rain_control, rain_avg)
header(panels[2][0], 'Neerslag')

# 4 Wind
ax = make_axes(*panels[3])
style_axes(ax, (0, 20), 2, 1)
ax.axhline(17.2, color='#2d6b6b', lw=0.9, ls=(0, (1, 1)), zorder=1)
draw_ens(ax, wind_members, wind_oper, wind_control, wind_avg)
header(panels[3][0], '10m wind')

# 5 Windstoten
ax = make_axes(*panels[4])
style_axes(ax, (0, 32), 2, 1)
ax.axhline(27.8, color='#ff40ff', lw=0.9, ls=(0, (3, 2)), zorder=1)
ax.axhline(20.8, color='#2d6b6b', lw=0.9, ls=(0, (1, 1)), zorder=1)
draw_ens(ax, gust_members, gust_oper, gust_control, gust_avg)
header(panels[4][0], '10m windstoten')

# 6 Bedekkingsgraad
ax = make_axes(*panels[5])
style_axes(ax, (0, 100), 10, 5)
lo = np.array(cloud_p25)
hi = np.array(cloud_p75)
ax.bar(T6, hi - lo, bottom=lo, width=5.0, color='#fafaa6', edgecolor='#cfcfb8',
       lw=0.5, zorder=1.5, alpha=0.9)
ax.hlines(cloud_median, np.array(T6) - 2.5, np.array(T6) + 2.5, color='#77774a', lw=0.8, zorder=1.6)
ax.plot(T6, cloud_control, color=BLUE, lw=1.3, zorder=3)
ax.plot(T_OPER, cloud_oper, color=RED, lw=1.3, zorder=3.5)
header(panels[5][0], 'Bedekkingsgraad', cloud=True)

fig.savefig('out.png', dpi=100)
